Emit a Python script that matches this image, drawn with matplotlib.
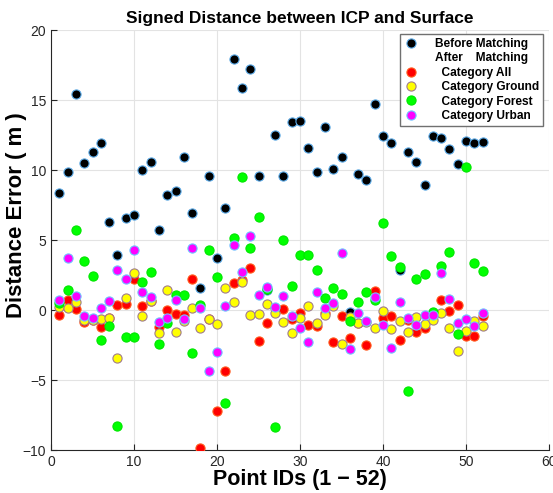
import matplotlib
matplotlib.use("Agg")
import matplotlib.pyplot as plt
from matplotlib.lines import Line2D

plt.rcParams['font.family'] = ['Liberation Sans', 'DejaVu Sans']

point_ids = list(range(1, 53))

before_matching = [8.35, 9.85, 15.45, 10.5, 11.3, 11.95, 6.3, 3.95, 6.6, 6.8,
                   10.0, 10.6, 5.7, 8.2, 8.5, 10.9, 6.9, 1.57, 9.55, 3.7,
                   7.3, 17.9, 15.85, 17.25, 9.6, 1.43, 12.5, 9.6, 13.4, 13.5,
                   11.6, 9.85, 13.05, 10.1, 10.9, -0.12, 9.75, 9.3, 14.7, 12.45,
                   11.9, 2.86, 11.3, 10.6, 8.9, 12.45, 12.3, 11.5, 10.4, 12.1,
                   11.9, 12.0]

cat_all = [-0.33, 0.75, 0.06, -0.88, -0.72, -1.22, -0.6, 0.38, 0.43, 2.2,
           0.3, 0.62, -1.22, 0.0, -0.31, -0.33, 2.2, -9.83, -0.62, -7.24,
           -4.33, 1.94, 2.12, 2.98, -2.22, -0.92, 0.15, 0.07, -0.65, -0.24,
           -1.08, -1.12, -0.2, -2.26, -0.4, -1.98, -0.9, -2.5, 1.36, -0.58,
           -0.4, -2.14, -0.71, -1.6, -1.31, -0.4, 0.68, -0.07, 0.33, -1.86,
           -1.86, -0.42]

cat_ground = [0.18, 0.15, 0.6, -0.73, -0.71, -0.62, -0.6, -3.4, 0.88, 2.62,
              -0.46, 0.64, -1.64, 1.46, -1.6, -0.76, 0.12, -1.26, -0.62, -1.0,
              1.57, 0.55, 1.98, -0.38, -0.3, 0.46, -0.24, -0.89, -1.62, -0.54,
              0.31, -0.92, -0.36, 0.32, -2.43, -0.5, -0.92, -0.85, -1.25, -0.06,
              -1.38, -0.78, -1.55, -0.48, -1.02, -0.74, -0.2, -1.25, -2.9, -1.5,
              -0.82, -1.16]

cat_forest = [0.52, 1.43, 5.71, 3.47, 2.44, -2.14, -1.17, -8.3, -1.95, -1.9,
              2.02, 2.74, -2.4, -0.95, 1.05, 1.05, -3.1, 0.38, 4.29, 2.38,
              -6.62, 5.12, 9.48, 4.4, 6.67, 1.5, -8.38, 5.0, 1.74, 3.93,
              3.93, 2.86, 0.89, 1.56, 1.17, -0.78, 0.6, 1.31, 0.71, 6.2,
              3.86, 3.1, -5.8, 2.2, 2.56, -0.15, 3.17, 4.17, -1.74, 10.2,
              3.36, 2.8]

cat_urban = [0.71, 3.69, 1.0, -0.45, -0.6, 0.17, 0.62, 2.88, 2.2, 4.27,
             1.26, 0.95, -0.88, -0.6, 0.71, -0.64, 4.4, 0.17, -4.33, -3.02,
             0.3, 4.67, 2.69, 5.26, 1.04, 1.62, 0.2, 1.02, -0.43, -1.26,
             -2.26, 1.26, 0.14, 0.5, 4.1, -2.82, -0.18, -0.82, 0.92, -1.1,
             -2.69, 0.6, -0.55, -1.05, -0.33, -0.36, 2.65, 0.8, -0.9, -0.64,
             -1.14, -0.24]

x_ticks = [0, 10, 20, 30, 40, 50, 60]
y_ticks = [-10, -5, 0, 5, 10, 15, 20]

fig = plt.figure(figsize=(5.53, 4.93), dpi=100)
ax = fig.add_axes([51/553, 1 - 450/493, (549 - 51)/553, (450 - 30)/493])

ms = 6.6
styles = [
    (before_matching, '#000000', '#5aa9e6'),
    (cat_all, '#ff0000', '#ff5a1e'),
    (cat_ground, '#ffff00', '#a07c8c'),
    (cat_forest, '#00ff00', '#00e600'),
    (cat_urban, '#ff00ff', '#6fc3ff'),
]
for vals, fc, ec in styles:
    ax.plot(point_ids, vals, linestyle='none', marker='o', markersize=ms,
            markerfacecolor=fc, markeredgecolor=ec, markeredgewidth=0.8,
            zorder=3)

ax.set_xlim(0, 60)
ax.set_ylim(-10, 20)
ax.set_xticks(x_ticks)
ax.set_yticks(y_ticks)
ax.grid(True, color='#e3e3e3', linewidth=0.8)
ax.set_axisbelow(True)
for s in ['top', 'right']:
    ax.spines[s].set_visible(False)
for s in ['left', 'bottom']:
    ax.spines[s].set_color('#262626')
    ax.spines[s].set_linewidth(0.8)
ax.tick_params(direction='in', length=4, width=0.8, colors='#262626',
               labelsize=10, labelcolor='#262626')

ax.set_title('Signed Distance between ICP and Surface', fontsize=12.5,
             fontweight='bold', pad=5)
ax.set_xlabel('Point IDs (1 \u2212 52)', fontsize=15.5, fontweight='bold')
ax.set_ylabel('Distance Error ( m )', fontsize=16, fontweight='bold')
ax.xaxis.set_label_coords(0.5, -0.045)
ax.yaxis.set_label_coords(-0.048, 0.56)

def h(fc, ec):
    return Line2D([], [], linestyle='none', marker='o', markersize=ms,
                  markerfacecolor=fc, markeredgecolor=ec, markeredgewidth=0.8)

handles = [h('#000000', '#5aa9e6'),
           Line2D([], [], linestyle='none', marker=None),
           h('#ff0000', '#ff5a1e'), h('#ffff00', '#a07c8c'),
           h('#00ff00', '#00e600'), h('#ff00ff', '#6fc3ff')]
labels = ['Before Matching', 'After    Matching', '  Category All',
          '  Category Ground', '  Category Forest', '  Category Urban']
leg = ax.legend(handles, labels, loc='upper right', bbox_to_anchor=(0.992, 0.995),
                fancybox=False, edgecolor='#707070', framealpha=1,
                prop={'size': 8.6, 'weight': 'bold'}, handlelength=1.2,
                handletextpad=1.4, labelspacing=0.2, borderpad=0.3,
                borderaxespad=0.2)
leg.get_frame().set_linewidth(1.0)

fig.savefig('out.png', dpi=100)
